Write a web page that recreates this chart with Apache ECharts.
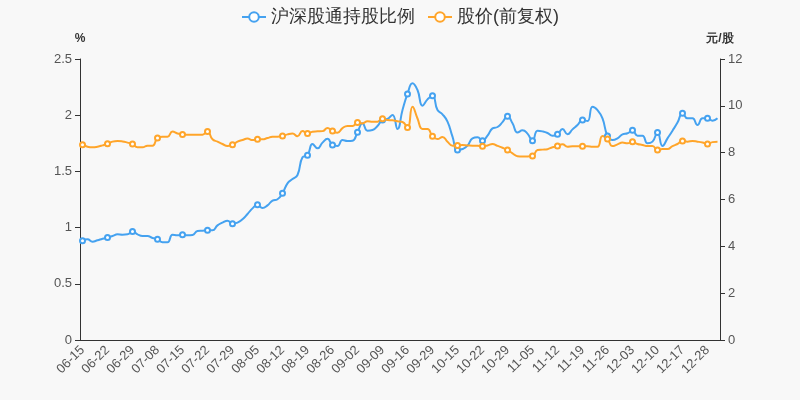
<!DOCTYPE html>
<html><head><meta charset="utf-8">
<script src="https://cdn.jsdelivr.net/npm/echarts@6/dist/echarts.min.js"></script>
<style>html,body{margin:0;padding:0;background:#f8f8f8}#c{width:800px;height:400px}</style>
</head><body><div id="c"></div>
<script>
var dates = ["06-15","06-16","06-17","06-18","06-21","06-22","06-23","06-24","06-25","06-28",
"06-29","06-30","07-02","07-05","07-06","07-08","07-09","07-12","07-13","07-14",
"07-15","07-16","07-19","07-20","07-21","07-22","07-23","07-26","07-27","07-28",
"07-29","07-30","08-02","08-03","08-04","08-05","08-06","08-09","08-10","08-11",
"08-12","08-13","08-16","08-17","08-18","08-19","08-20","08-23","08-24","08-25",
"08-26","08-27","08-30","08-31","09-01","09-02","09-03","09-06","09-07","09-08",
"09-09","09-10","09-13","09-14","09-15","09-16","09-17","09-23","09-24","09-28",
"09-29","09-30","10-11","10-12","10-14","10-15","10-18","10-19","10-20","10-21",
"10-22","10-25","10-26","10-27","10-28","10-29","11-01","11-02","11-03","11-04",
"11-05","11-08","11-09","11-10","11-11","11-12","11-15","11-16","11-17","11-18",
"11-19","11-22","11-23","11-24","11-25","11-26","11-29","11-30","12-01","12-02",
"12-03","12-06","12-07","12-08","12-09","12-10","12-13","12-14","12-15","12-16",
"12-17","12-20","12-21","12-22","12-23","12-28","12-29","12-30"];

var holdRatio = [0.884,0.896,0.875,0.887,0.901,0.913,0.925,0.940,0.937,0.940,
0.965,0.940,0.925,0.925,0.907,0.896,0.870,0.870,0.937,0.931,
0.937,0.931,0.934,0.970,0.973,0.976,0.976,1.020,1.044,1.062,
1.035,1.044,1.074,1.121,1.171,1.204,1.174,1.198,1.240,1.252,
1.305,1.394,1.432,1.468,1.625,1.643,1.744,1.705,1.756,1.791,
1.735,1.726,1.779,1.770,1.773,1.848,1.928,1.862,1.868,1.904,
1.957,1.966,2.002,1.877,2.046,2.189,2.284,2.224,2.085,2.141,
2.174,2.046,2.008,1.943,1.809,1.690,1.699,1.729,1.794,1.803,
1.773,1.818,1.883,1.895,1.938,1.990,1.928,1.846,1.865,1.836,
1.773,1.862,1.856,1.842,1.818,1.830,1.877,1.830,1.874,1.913,
1.957,1.948,2.076,2.046,1.972,1.815,1.779,1.794,1.830,1.839,
1.865,1.818,1.818,1.750,1.765,1.845,1.726,1.794,1.862,1.934,
2.017,1.972,1.972,1.913,1.972,1.972,1.951,1.972];

var price = [8.34,8.255,8.23,8.255,8.31,8.38,8.47,8.50,8.48,8.43,
8.37,8.23,8.23,8.30,8.30,8.625,8.68,8.68,8.90,8.82,
8.78,8.77,8.77,8.77,8.77,8.90,8.57,8.47,8.37,8.28,
8.34,8.47,8.54,8.60,8.54,8.57,8.57,8.625,8.68,8.68,
8.71,8.78,8.82,8.70,8.92,8.82,8.895,8.91,8.92,9.05,
8.92,8.85,9.05,9.14,9.14,9.29,9.25,9.34,9.32,9.32,
9.45,9.39,9.38,9.34,9.31,9.08,9.96,9.46,9.01,9.01,
8.70,8.58,8.67,8.47,8.30,8.31,8.325,8.31,8.30,8.30,
8.27,8.31,8.37,8.29,8.21,8.11,7.97,7.85,7.84,7.84,
7.86,8.11,8.13,8.15,8.23,8.28,8.355,8.255,8.27,8.27,
8.27,8.27,8.255,8.255,8.71,8.58,8.28,8.355,8.43,8.40,
8.47,8.37,8.33,8.28,8.28,8.11,8.155,8.155,8.28,8.37,
8.50,8.47,8.50,8.47,8.43,8.37,8.45,8.47];

var blue = '#45a2f0', orange = '#ffa52a';
var chart = echarts.init(document.getElementById('c'));
chart.setOption({
  backgroundColor: '#f8f8f8',
  animation: false,
  legend: {
    top: 3, left: 'center', itemWidth: 24, itemHeight: 12, itemGap: 12,
    textStyle: {fontSize: 18, color: '#333'},
    data: ['沪深股通持股比例', '股价(前复权)']
  },
  grid: {left: 80, right: 80, top: 59, bottom: 60},
  xAxis: {
    type: 'category', data: dates, boundaryGap: true,
    axisLine: {lineStyle: {color: '#333'}},
    axisTick: {interval: 4, lineStyle: {color: '#333'}},
    axisLabel: {interval: 4, rotate: 45, color: '#555', fontSize: 13}
  },
  yAxis: [{
    type: 'value', min: 0, max: 2.5, interval: 0.5, name: '%',
    nameGap: 14, nameTextStyle: {color: '#333', fontWeight: 'bold', fontSize: 12},
    splitLine: {show: false},
    axisLine: {show: true, lineStyle: {color: '#333'}},
    axisTick: {show: true, lineStyle: {color: '#333'}},
    axisLabel: {color: '#555', fontSize: 13}
  }, {
    type: 'value', min: 0, max: 12, interval: 2, name: '元/股',
    nameGap: 14, nameTextStyle: {color: '#333', fontWeight: 'bold', fontSize: 12},
    splitLine: {show: false},
    axisLine: {show: true, lineStyle: {color: '#333'}},
    axisTick: {show: true, lineStyle: {color: '#333'}},
    axisLabel: {color: '#555', fontSize: 13}
  }],
  series: [{
    name: '沪深股通持股比例', type: 'line', yAxisIndex: 0, data: holdRatio,
    smooth: true, symbol: 'emptyCircle', symbolSize: 5,
    itemStyle: {color: blue}, lineStyle: {width: 2, color: blue}
  }, {
    name: '股价(前复权)', type: 'line', yAxisIndex: 1, data: price,
    smooth: true, symbol: 'emptyCircle', symbolSize: 5,
    itemStyle: {color: orange}, lineStyle: {width: 2, color: orange}
  }]
});
</script></body></html>
